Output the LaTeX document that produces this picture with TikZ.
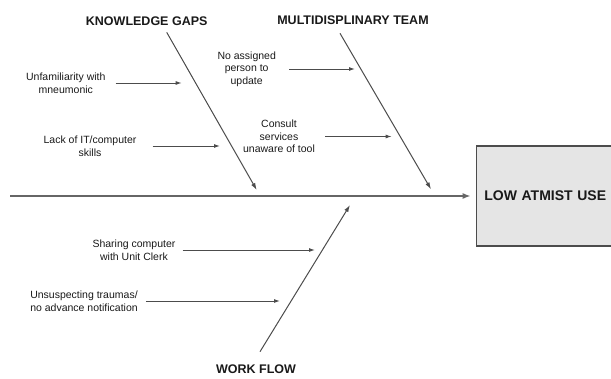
\documentclass[tikz,border=0pt]{standalone}
\usepackage{fontspec}
\setmainfont{Liberation Sans}
\usetikzlibrary{arrows.meta,positioning}

\begin{document}
\begin{tikzpicture}[
  x=1pt, y=-1pt,
  every node/.style={font=\fontsize{10.5}{12.7}\selectfont, text=black!90},
  cause/.style={align=center, inner sep=0pt},
  head/.style={font=\fontsize{12.5}{14}\selectfont\bfseries, inner sep=0pt},
  effectbox/.style={rectangle, draw=black!70, line width=1.2pt, fill=gray!20, minimum height=100pt, text width=150pt, inner xsep=8pt, align=left, font=\fontsize{14}{16}\selectfont\bfseries},
  bone/.style={draw=black!70, line width=1pt, -{Latex[length=7pt,width=4.5pt]}},
  arrow/.style={draw=black!70, line width=1pt, -{Latex[length=6pt,width=4pt]}},
  spine/.style={draw=black!60, line width=1.8pt, -{Latex[length=8pt,width=6pt]}}
]
\clip (0,0) rectangle (611,378);

% effect and spine
\node[effectbox, anchor=west] (effect) at (475.7,196) {LOW ATMIST USE};
\coordinate (tail) at (10,196);
\draw[spine, shorten >=5pt] (tail) -- (effect.west);

% categories
\node[head] (kg) at (146.7,20.7) {KNOWLEDGE GAPS};
\node[head] (mt) at (353,20) {MULTIDISPLINARY TEAM};
\node[head] (wf) at (256,369) {WORK FLOW};

\coordinate (kgstart) at (166.7,32.3);
\coordinate (mtstart) at (340,33.3);
\coordinate (wfstart) at (260,351.7);
\coordinate (kgend) at (256.7,190);
\coordinate (mtend) at (431,189.3);
\coordinate (wfend) at (350,205);
\draw[bone] (kgstart) -- (kgend);
\draw[bone] (mtstart) -- (mtend);
\draw[bone] (wfstart) -- (wfend);

% causes
\node[cause] (c1) at (65.8,83) {Unfamiliarity with\\mneumonic};
\node[cause] (c2) at (90,146) {Lack of IT/computer\\skills};
\node[cause] (m1) at (246.7,69) {No assigned\\person to\\update};
\node[cause] (m2) at (279,136.5) {Consult\\services\\unaware of tool};
\node[cause] (w1) at (134,250) {Sharing computer\\with Unit Clerk};
\node[cause] (w2) at (84,301) {Unsuspecting traumas/\\no advance notification};

\coordinate (c1t) at (181.7,83);
\coordinate (c2t) at (220,146);
\coordinate (m1t) at (355,69);
\coordinate (m2t) at (391.7,136.5);
\coordinate (w1t) at (315,250);
\coordinate (w2t) at (280,301);

\draw[arrow, shorten <=10pt] (c1) -- (c1t);
\draw[arrow, shorten <=16pt] (c2) -- (c2t);
\draw[arrow, shorten <=13pt] (m1) -- (m1t);
\draw[arrow, shorten <=10pt] (m2) -- (m2t);
\draw[arrow, shorten <=7pt] (w1) -- (w1t);
\draw[arrow, shorten <=8pt] (w2) -- (w2t);
\end{tikzpicture}
\end{document}
